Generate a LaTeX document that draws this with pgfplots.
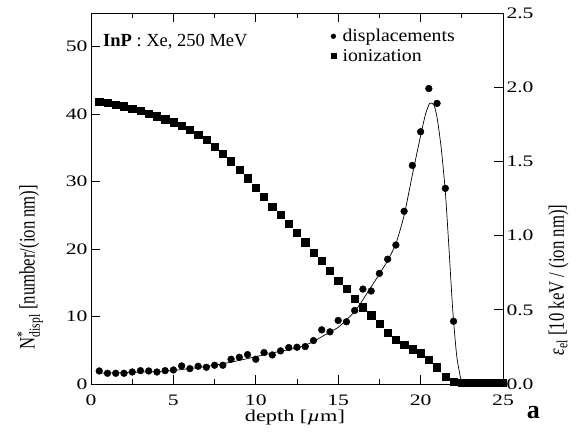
\documentclass[border=0pt]{standalone}
\usepackage{fontspec}
\setmainfont{Liberation Serif}
\newfontfamily\tickfont[FakeStretch=1.35]{Liberation Serif}
\newfontfamily\xlabfont[FakeStretch=1.35]{Liberation Serif}
\newfontfamily\rotfont[FakeStretch=0.76]{Liberation Serif}
\newfontfamily\legfont[FakeStretch=1.1]{Liberation Serif}
\usepackage{pgfplots}
\usepackage{pgfplotstable}
\pgfplotsset{compat=1.18}

% displacements (left axis)
\pgfplotstableread{
x n
0.5 1.93
1.0 1.59
1.5 1.59
2.0 1.59
2.5 1.78
3.0 1.98
3.5 1.93
4.0 1.78
4.5 1.98
5.0 2.08
5.5 2.68
6.0 2.28
6.5 2.63
7.0 2.48
7.5 2.78
8.0 2.78
8.5 3.67
9.0 3.96
9.5 4.36
10.0 3.67
10.5 4.66
11.0 4.31
11.5 4.91
12.0 5.40
12.5 5.45
13.0 5.55
13.5 6.44
14.0 8.03
14.5 7.73
15.0 9.42
15.5 9.22
16.0 10.9
16.5 14.07
17.0 13.78
17.5 16.4
18.0 18.5
18.5 20.6
19.0 25.6
19.5 32.4
20.0 37.4
20.5 43.8
21.0 41.6
21.5 29.0
22.0 9.3
22.5 0.2
23.0 0.2
23.5 0.2
24.0 0.2
24.5 0.2
25.0 0.2
}\displdata

% fitted line through the displacements
\pgfplotstableread{
x n
0.5 1.6
2.0 1.7
4.0 1.85
5.0 2.0
6.0 2.3
7.0 2.6
8.0 3.0
9.0 3.5
10.0 4.05
11.0 4.6
12.0 5.1
12.5 5.35
13.0 5.75
13.5 6.3
14.0 7.0
14.5 7.7
15.0 8.4
15.5 9.5
16.0 10.75
16.5 12.5
17.0 14.4
17.5 16.3
18.0 18.3
18.5 20.8
19.0 25.0
19.5 31.0
20.0 36.8
20.3 40.0
20.55 41.6
20.8 41.4
21.0 39.5
21.25 35.0
21.5 28.5
21.7 21.0
21.95 11.0
22.2 4.0
22.5 0.0
}\fitdata

% ionization (right axis)
\pgfplotstableread{
x e
0.5 1.900
1.0 1.894
1.5 1.883
2.0 1.872
2.5 1.856
3.0 1.840
3.5 1.824
4.0 1.804
4.5 1.784
5.0 1.764
5.5 1.739
6.0 1.714
6.5 1.682
7.0 1.644
7.5 1.599
8.0 1.552
8.5 1.502
9.0 1.446
9.5 1.387
10.0 1.324
10.5 1.261
11.0 1.196
11.5 1.140
12.0 1.079
12.5 1.018
13.0 0.955
13.5 0.885
14.0 0.829
14.5 0.766
15.0 0.698
15.5 0.640
16.0 0.577
16.5 0.518
17.0 0.464
17.5 0.405
18.0 0.347
18.5 0.297
19.0 0.264
19.5 0.234
20.0 0.207
20.5 0.162
21.0 0.113
21.5 0.049
22.0 0.013
22.5 0.008
23.0 0.008
23.5 0.008
24.0 0.008
24.5 0.008
25.0 0.008
}\iondata

\newcommand{\rotsub}[1]{\mbox{\rotfont\fontsize{15.4}{16}\selectfont #1}}

\pgfplotsset{
  base/.style={
    scale only axis, width=412pt, height=371pt,
    xmin=0, xmax=25, clip=false,
    tick align=inside,
    major tick length=9pt, minor tick length=5pt,
    tick style={black, line width=0.7pt},
    axis line style={line width=0.8pt},
    /pgf/number format/assume math mode=true,
    tick label style={font=\tickfont\fontsize{16}{19}\selectfont},
    xticklabel style={yshift=-7pt},
  },
}

\begin{document}
\begin{tikzpicture}
\begin{axis}[base,
  ymin=0, ymax=55, ytick={0,10,20,30,40,50}, ytick pos=left,
  xtick={0,5,10,15,20,25}, minor xtick={2.5,7.5,12.5,17.5,22.5},
  xtick pos=both, xticklabel pos=lower,
  xlabel={depth [\itshape µ\upshape m]},
  xlabel style={at={(rel axis cs:0.495,-0.101)}, anchor=base,
    font=\xlabfont\fontsize{16.5}{19}\selectfont},
  ylabel={N$^{\rotsub{*}}_{\rotsub{displ}}$ [number/(ion nm)]},
  ylabel style={at={(rel axis cs:-0.148,0.315)}, anchor=center,
    font=\rotfont\fontsize{22}{26}\selectfont},
  legend image code/.code={\draw[#1] plot coordinates {(0pt,0pt)}; \path (7pt,0pt);},
  legend style={at={(rel axis cs:0.582,0.962)}, anchor=north west,
    draw=none, fill=none, inner sep=0pt, row sep=2pt,
    font=\legfont\fontsize{18}{21}\selectfont, cells={anchor=west}},
]
\coordinate (SW) at (rel axis cs:0,0);
\coordinate (NE) at (rel axis cs:1,1);
\addlegendimage{only marks, mark=*, mark size=2.4pt, black}
\addlegendentry{displacements}
\addlegendimage{only marks, mark=square*, mark size=2.4pt, black}
\addlegendentry{ionization}
\addplot[forget plot, black, line width=0.7pt, smooth, tension=0.4] table[x=x, y=n] {\fitdata};
\addplot[forget plot, only marks, mark=*, mark size=3.4pt, black] table[x=x, y=n] {\displdata};
\node[anchor=base west, inner sep=0pt, font=\fontsize{18.5}{21}\selectfont] at (rel axis cs:0.029,0.909) {\textbf{InP} : Xe, 250 MeV};
\node[anchor=base, font=\bfseries\fontsize{26}{30}\selectfont] at (rel axis cs:1.074,-0.092) {a};
\end{axis}
\begin{axis}[base,
  axis x line=none, axis y line*=right,
  ymin=0, ymax=2.5, ytick={0,0.5,1.0,1.5,2.0,2.5},
  yticklabel style={/pgf/number format/.cd, fixed, fixed zerofill, precision=1},
  ylabel={\itshape ε\upshape$_{\rotsub{el}}$ [10 keV / (ion nm)]},
  ylabel style={at={(rel axis cs:1.135,0.28)}, anchor=center,
    font=\rotfont\fontsize{22}{26}\selectfont},
]
\addplot[only marks, mark=square*, mark size=3.6pt, black] table[x=x, y=e] {\iondata};
\end{axis}
\pgfresetboundingbox
\path[use as bounding box] ([shift={(-91pt,-63pt)}]SW) rectangle ([shift={(84pt,13pt)}]NE);
\end{tikzpicture}
\end{document}
